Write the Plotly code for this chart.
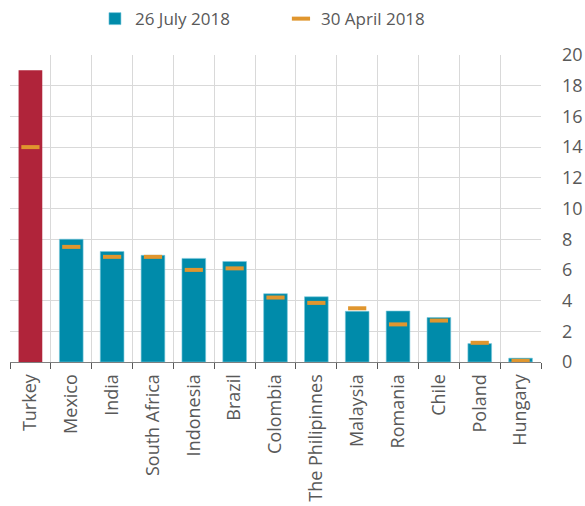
import plotly.graph_objects as go

countries = ["Turkey", "Mexico", "India", "South Africa", "Indonesia", "Brazil",
             "Colombia", "The Philipinnes", "Malaysia", "Romania", "Chile", "Poland", "Hungary"]
july_2018 = [19.0, 8.0, 7.2, 6.95, 6.75, 6.55, 4.45, 4.25, 3.3, 3.32, 2.9, 1.2, 0.25]
april_2018 = [14.0, 7.5, 6.85, 6.85, 6.0, 6.1, 4.2, 3.85, 3.5, 2.45, 2.7, 1.25, 0.08]
highlight = ["Turkey"]
y_ticks = [0, 2, 4, 6, 8, 10, 12, 14, 16, 18, 20]

teal = "#008BAA"
red = "#B0243A"
orange = "#E0962E"
grey_text = "#595959"

teal_vals = [None if c in highlight else v for c, v in zip(countries, july_2018)]
red_vals = [v if c in highlight else None for c, v in zip(countries, july_2018)]

fig = go.Figure()
fig.add_trace(go.Bar(
    x=countries, y=teal_vals, name="26 July 2018",
    marker=dict(color=teal, line=dict(color="rgba(120,200,220,0.6)", width=1)),
    width=0.58,
))
fig.add_trace(go.Bar(
    x=countries, y=red_vals, name="26 July 2018 (highlight)", showlegend=False,
    marker=dict(color=red, line=dict(width=0)),
    width=0.58,
))
fig.add_trace(go.Scatter(
    x=countries, y=april_2018, name="30 April 2018", mode="markers",
    marker=dict(symbol="line-ew-open", size=13, color=orange, line=dict(color=orange, width=4)),
))

fig.update_layout(
    width=585, height=506,
    margin=dict(l=10, r=44, t=55, b=144, autoexpand=False),
    paper_bgcolor="white", plot_bgcolor="white",
    font=dict(family="Open Sans", size=18, color=grey_text),
    showlegend=True, barmode="overlay",
    legend=dict(orientation="h", x=0.16, xanchor="left", y=1.117, yanchor="middle",
                entrywidth=141, entrywidthmode="pixels",
                font=dict(size=17, color=grey_text), itemwidth=30),
)
fig.update_xaxes(
    type="category", tickson="boundaries", showgrid=True, gridcolor="#D9D9D9", gridwidth=1,
    ticks="outside", ticklen=6, tickcolor="#595959", showline=True, linecolor="#7F7F7F",
    tickangle=-90, tickfont=dict(size=18, color=grey_text), range=[-0.5, 12.5],
    automargin=False, ticklabelstandoff=4,
)
fig.update_yaxes(
    side="right", range=[0, 20], tickvals=y_ticks, showgrid=True, gridcolor="#D9D9D9",
    gridwidth=1, zeroline=False, tickfont=dict(size=18, color=grey_text), ticks="",
    ticklabelstandoff=20, automargin=False,
)

fig.write_html("out.html")
